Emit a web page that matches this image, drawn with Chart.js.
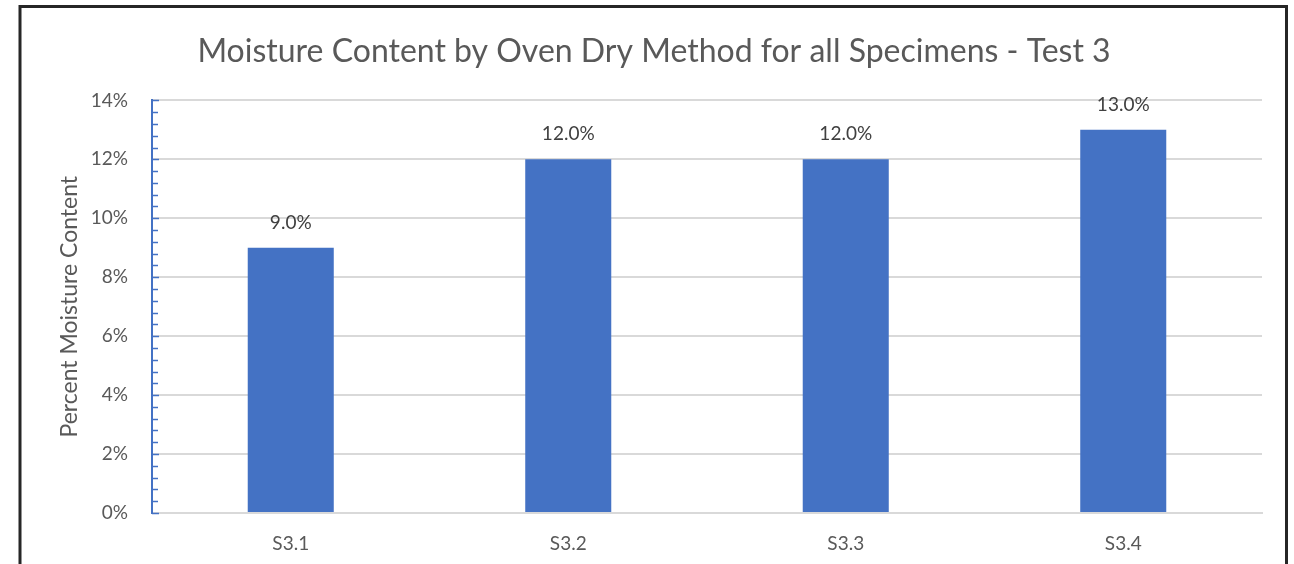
<!DOCTYPE html>
<html>
<head>
<meta charset="utf-8">
<script src="https://cdn.jsdelivr.net/npm/chart.js@4.4.1/dist/chart.umd.min.js"></script>
<style>
  html, body { margin: 0; padding: 0; background: #ffffff; }
  #wrap { position: relative; width: 1294px; height: 564px; }
</style>
</head>
<body>
<div id="wrap"><canvas id="chart" width="1294" height="564"></canvas></div>
<script>
// Specimens and measured moisture content (percent)
const specimens = ['S3.1', 'S3.2', 'S3.3', 'S3.4'];
const moisture = [9.0, 12.0, 12.0, 13.0];
const yMin = 0;
const yMax = 14;
const yMajorStep = 2;
const yMinorStep = 0.4;

const chartTitle = 'Moisture Content by Oven Dry Method for all Specimens - Test 3';
const yTitle = 'Percent Moisture Content';

const FONT = 'Lato, "Open Sans", sans-serif';
const TEXT = '#595959';
const BAR = '#4472C4';
const GRID = '#d9d9d9';

const isMajor = v => Math.abs(v / yMajorStep - Math.round(v / yMajorStep)) < 1e-6;

// Frame around the chart object (left, top and right edges)
const framePlugin = {
  id: 'frame',
  beforeDraw(chart) {
    const c = chart.ctx;
    c.save();
    c.strokeStyle = '#262626';
    c.lineWidth = 3;
    c.beginPath();
    c.moveTo(20, 564);
    c.lineTo(20, 6.5);
    c.lineTo(1286.5, 6.5);
    c.lineTo(1286.5, 564);
    c.stroke();
    c.restore();
  }
};

// Small blue tick marks on the inside of the value axis
const axisTicksPlugin = {
  id: 'axisTicks',
  afterDatasetsDraw(chart) {
    const y = chart.scales.y;
    const c = chart.ctx;
    c.save();
    c.strokeStyle = BAR;
    c.lineWidth = 1.5;
    y.ticks.forEach(t => {
      const py = Math.round(y.getPixelForValue(t.value)) + 0.5;
      c.beginPath();
      c.moveTo(y.right, py);
      c.lineTo(y.right + (isMajor(t.value) ? 7 : 6), py);
      c.stroke();
    });
    c.restore();
  }
};

// Value labels above each bar
const valueLabelPlugin = {
  id: 'valueLabels',
  afterDatasetsDraw(chart) {
    const c = chart.ctx;
    const meta = chart.getDatasetMeta(0);
    c.save();
    c.font = '19px ' + FONT;
    c.fillStyle = '#404040';
    c.textAlign = 'center';
    c.textBaseline = 'middle';
    meta.data.forEach((bar, i) => {
      c.fillText(moisture[i].toFixed(1) + '%', bar.x, bar.y - 25);
    });
    c.restore();
  }
};

new Chart(document.getElementById('chart'), {
  type: 'bar',
  data: {
    labels: specimens,
    datasets: [{
      data: moisture,
      backgroundColor: BAR,
      borderWidth: 0,
      categoryPercentage: 0.31,
      barPercentage: 1.0
    }]
  },
  options: {
    responsive: false,
    animation: false,
    layout: { padding: { left: 46, right: 32, top: 0, bottom: 0 } },
    plugins: {
      legend: { display: false },
      tooltip: { enabled: false },
      title: {
        display: true,
        text: chartTitle,
        color: TEXT,
        font: { family: FONT, size: 32, weight: 'normal' },
        padding: { top: 32, bottom: 30 }
      }
    },
    scales: {
      x: {
        grid: { display: false, drawTicks: false },
        border: { display: true, color: GRID, width: 2 },
        ticks: {
          color: TEXT,
          font: { family: FONT, size: 19 },
          padding: 19
        },
        afterFit(scale) { scale.height = 51; }
      },
      y: {
        min: yMin,
        max: yMax,
        border: { display: true, color: BAR, width: 2 },
        grid: {
          drawTicks: false,
          color: ctx => isMajor(ctx.tick.value) ? GRID : 'rgba(0,0,0,0)',
          lineWidth: 2
        },
        ticks: {
          stepSize: yMinorStep,
          autoSkip: false,
          color: TEXT,
          font: { family: FONT, size: 19 },
          padding: 24,
          callback: v => isMajor(v) ? Math.round(v) + '%' : ''
        },
        title: {
          display: true,
          text: yTitle,
          color: TEXT,
          font: { family: FONT, size: 23, weight: 'normal' },
          padding: { top: 10, bottom: 0 }
        },
        afterFit(scale) { scale.width = 106; }
      }
    }
  },
  plugins: [framePlugin, axisTicksPlugin, valueLabelPlugin]
});
</script>
</body>
</html>
